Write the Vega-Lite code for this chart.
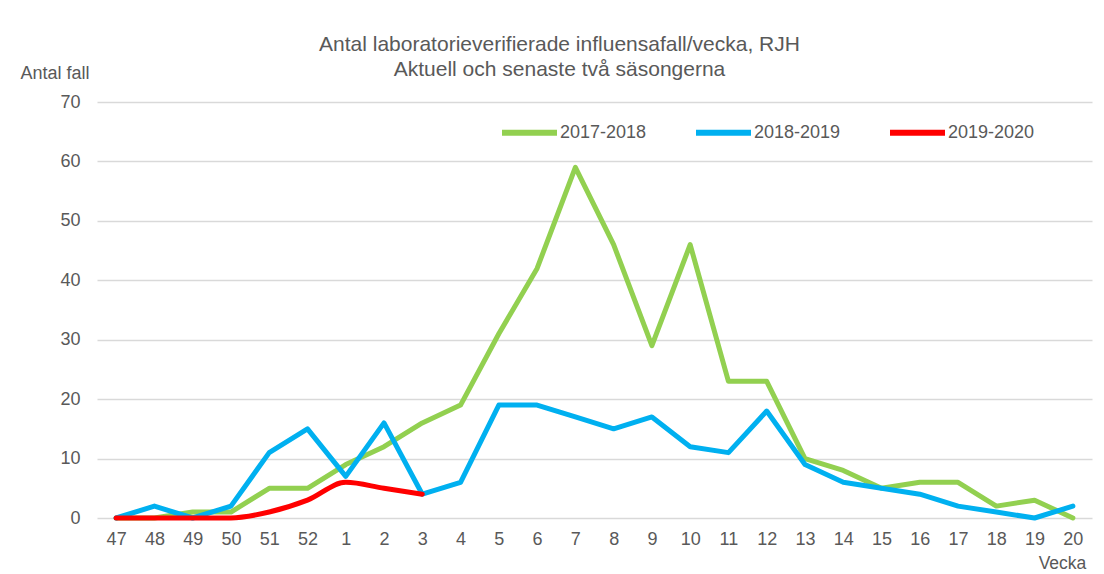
{
  "$schema": "https://vega.github.io/schema/vega-lite/v6.json",
  "width": 995,
  "height": 416,
  "autosize": {"type": "none"},
  "padding": {"left": 97, "top": 102, "right": 12, "bottom": 56},
  "background": "white",
  "config": {
    "font": "Liberation Sans",
    "view": {"stroke": null}
  },
  "title": {
    "text": ["Antal laboratorieverifierade influensafall/vecka, RJH", "Aktuell och senaste två  säsongerna"],
    "anchor": "middle",
    "dx": -35,
    "offset": -16,
    "fontSize": 21,
    "fontWeight": "normal",
    "color": "#595959",
    "lineHeight": 25
  },
  "data": {
    "values": [
      {"vecka": "47", "sasong": "2017-2018", "antal": 0},
      {"vecka": "48", "sasong": "2017-2018", "antal": 0},
      {"vecka": "49", "sasong": "2017-2018", "antal": 1},
      {"vecka": "50", "sasong": "2017-2018", "antal": 1},
      {"vecka": "51", "sasong": "2017-2018", "antal": 5},
      {"vecka": "52", "sasong": "2017-2018", "antal": 5},
      {"vecka": "1", "sasong": "2017-2018", "antal": 9},
      {"vecka": "2", "sasong": "2017-2018", "antal": 12},
      {"vecka": "3", "sasong": "2017-2018", "antal": 16},
      {"vecka": "4", "sasong": "2017-2018", "antal": 19},
      {"vecka": "5", "sasong": "2017-2018", "antal": 31},
      {"vecka": "6", "sasong": "2017-2018", "antal": 42},
      {"vecka": "7", "sasong": "2017-2018", "antal": 59},
      {"vecka": "8", "sasong": "2017-2018", "antal": 46},
      {"vecka": "9", "sasong": "2017-2018", "antal": 29},
      {"vecka": "10", "sasong": "2017-2018", "antal": 46},
      {"vecka": "11", "sasong": "2017-2018", "antal": 23},
      {"vecka": "12", "sasong": "2017-2018", "antal": 23},
      {"vecka": "13", "sasong": "2017-2018", "antal": 10},
      {"vecka": "14", "sasong": "2017-2018", "antal": 8},
      {"vecka": "15", "sasong": "2017-2018", "antal": 5},
      {"vecka": "16", "sasong": "2017-2018", "antal": 6},
      {"vecka": "17", "sasong": "2017-2018", "antal": 6},
      {"vecka": "18", "sasong": "2017-2018", "antal": 2},
      {"vecka": "19", "sasong": "2017-2018", "antal": 3},
      {"vecka": "20", "sasong": "2017-2018", "antal": 0},
      {"vecka": "47", "sasong": "2018-2019", "antal": 0},
      {"vecka": "48", "sasong": "2018-2019", "antal": 2},
      {"vecka": "49", "sasong": "2018-2019", "antal": 0},
      {"vecka": "50", "sasong": "2018-2019", "antal": 2},
      {"vecka": "51", "sasong": "2018-2019", "antal": 11},
      {"vecka": "52", "sasong": "2018-2019", "antal": 15},
      {"vecka": "1", "sasong": "2018-2019", "antal": 7},
      {"vecka": "2", "sasong": "2018-2019", "antal": 16},
      {"vecka": "3", "sasong": "2018-2019", "antal": 4},
      {"vecka": "4", "sasong": "2018-2019", "antal": 6},
      {"vecka": "5", "sasong": "2018-2019", "antal": 19},
      {"vecka": "6", "sasong": "2018-2019", "antal": 19},
      {"vecka": "7", "sasong": "2018-2019", "antal": 17},
      {"vecka": "8", "sasong": "2018-2019", "antal": 15},
      {"vecka": "9", "sasong": "2018-2019", "antal": 17},
      {"vecka": "10", "sasong": "2018-2019", "antal": 12},
      {"vecka": "11", "sasong": "2018-2019", "antal": 11},
      {"vecka": "12", "sasong": "2018-2019", "antal": 18},
      {"vecka": "13", "sasong": "2018-2019", "antal": 9},
      {"vecka": "14", "sasong": "2018-2019", "antal": 6},
      {"vecka": "15", "sasong": "2018-2019", "antal": 5},
      {"vecka": "16", "sasong": "2018-2019", "antal": 4},
      {"vecka": "17", "sasong": "2018-2019", "antal": 2},
      {"vecka": "18", "sasong": "2018-2019", "antal": 1},
      {"vecka": "19", "sasong": "2018-2019", "antal": 0},
      {"vecka": "20", "sasong": "2018-2019", "antal": 2},
      {"vecka": "47", "sasong": "2019-2020", "antal": 0},
      {"vecka": "48", "sasong": "2019-2020", "antal": 0},
      {"vecka": "49", "sasong": "2019-2020", "antal": 0},
      {"vecka": "50", "sasong": "2019-2020", "antal": 0},
      {"vecka": "51", "sasong": "2019-2020", "antal": 1},
      {"vecka": "52", "sasong": "2019-2020", "antal": 3},
      {"vecka": "1", "sasong": "2019-2020", "antal": 6},
      {"vecka": "2", "sasong": "2019-2020", "antal": 5},
      {"vecka": "3", "sasong": "2019-2020", "antal": 4}
    ]
  },
  "encoding": {
    "x": {
      "field": "vecka",
      "type": "ordinal",
      "sort": ["47","48","49","50","51","52","1","2","3","4","5","6","7","8","9","10","11","12","13","14","15","16","17","18","19","20"],
      "scale": {"type": "point", "padding": 0.5},
      "axis": {
        "title": "Vecka",
        "titleFontSize": 17.5,
        "titleFontWeight": "normal",
        "titleColor": "#595959",
        "titleX": 965,
        "titleY": 45,
        "titleAlign": "center",
        "titleBaseline": "middle",
        "labelAngle": 0,
        "labelFontSize": 18,
        "labelColor": "#595959",
        "labelPadding": 12,
        "ticks": false,
        "domain": false,
        "grid": false
      }
    },
    "y": {
      "field": "antal",
      "type": "quantitative",
      "scale": {"domain": [0, 70], "nice": false},
      "axis": {
        "title": "Antal fall",
        "titleAngle": 0,
        "titleFontSize": 18,
        "titleFontWeight": "normal",
        "titleColor": "#595959",
        "titleX": -77,
        "titleY": -29,
        "titleAlign": "left",
        "titleBaseline": "middle",
        "values": [0, 10, 20, 30, 40, 50, 60, 70],
        "labelFontSize": 18,
        "labelColor": "#595959",
        "labelPadding": 17,
        "ticks": false,
        "domain": false,
        "gridColor": "#D9D9D9",
        "gridWidth": 1.5
      }
    },
    "color": {
      "field": "sasong",
      "type": "nominal",
      "scale": {
        "domain": ["2017-2018", "2018-2019", "2019-2020"],
        "range": ["#92D050", "#00B0F0", "#FF0000"]
      },
      "legend": {
        "title": null,
        "orient": "none",
        "legendX": 402,
        "legendY": 0,
        "direction": "horizontal",
        "symbolType": "stroke",
        "symbolSize": 3025,
        "symbolStrokeWidth": 6,
        "labelFontSize": 18,
        "labelColor": "#595959",
        "labelOffset": 0,
        "columnPadding": 37
      }
    }
  },
  "layer": [
    {
      "transform": [{"filter": "datum.sasong != '2019-2020'"}],
      "mark": {"type": "line", "strokeWidth": 5, "strokeCap": "round", "strokeJoin": "round"}
    },
    {
      "transform": [{"filter": "datum.sasong == '2019-2020'"}],
      "mark": {"type": "line", "strokeWidth": 5, "strokeCap": "round", "strokeJoin": "round", "interpolate": "monotone"}
    }
  ]
}
